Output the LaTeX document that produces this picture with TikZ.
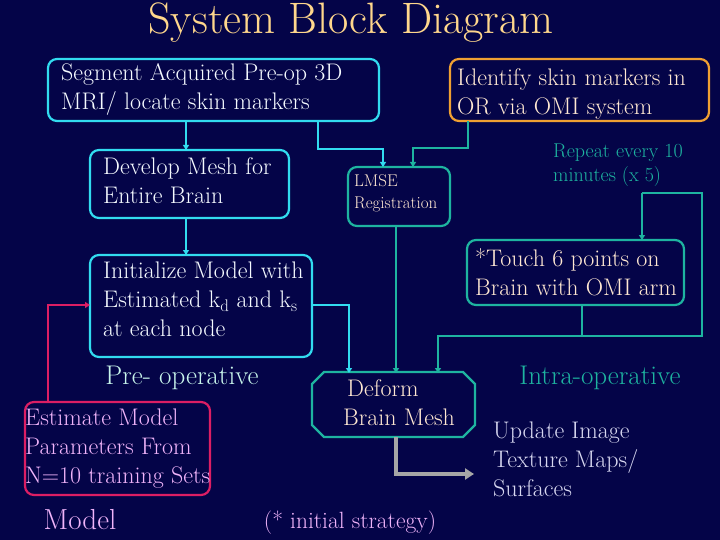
\documentclass[tikz,border=0pt]{standalone}
\usetikzlibrary{arrows.meta,shapes.geometric}
\definecolor{bg}{RGB}{4,4,72}
\definecolor{cy}{RGB}{50,220,240}
\definecolor{tl}{RGB}{30,180,160}
\definecolor{orng}{RGB}{240,160,50}
\definecolor{mag}{RGB}{220,30,100}
\definecolor{txt}{RGB}{245,250,255}
\definecolor{peach}{RGB}{255,232,210}
\definecolor{pink}{RGB}{240,180,250}
\definecolor{lav}{RGB}{215,215,240}
\definecolor{ttl}{RGB}{255,215,140}
\definecolor{pre}{RGB}{200,245,235}
\begin{document}
\begin{tikzpicture}[x=1pt,y=-1pt,
  box/.style={draw, line width=2.2pt, rounded corners=9pt, inner sep=0pt},
  lab/.style={anchor=north west, align=left, font=\fontsize{24}{29}\selectfont, inner sep=0pt},
  con/.style={line width=2.2pt},
  arr/.style={con,-{Triangle[length=5pt,width=6pt]}}]
\fill[bg] (0,0) rectangle (720,540);
\useasboundingbox (0,0) rectangle (720,540);
\node[text=ttl, font=\fontsize{44}{46}\selectfont] (title) at (351,23) {System Block Diagram};
% boxes
\draw[box,cy] (48,59) rectangle (379,121);
\node[lab,text=txt] (seg) at (61,63) {Segment Acquired Pre-op 3D\\MRI/ locate skin markers};
\draw[box,orng] (450,59) rectangle (709,121);
\node[lab,text=peach] (ide) at (457,68) {Identify skin markers in\\OR via OMI system};
\draw[box,cy] (90,150) rectangle (289,218);
\node[lab,text=txt] (dev) at (103,157) {Develop Mesh for\\Entire Brain};
\draw[box,tl] (348,167) rectangle (450,226);
\node[lab,text=peach,font=\fontsize{17}{22}\selectfont] (lmse) at (354,174) {LMSE\\Registration};
\draw[box,tl] (467,240) rectangle (684,305);
\node[lab,text=peach] (tch) at (475,248) {*Touch 6 points on\\Brain with OMI arm};
\draw[box,cy] (90,255) rectangle (312,357);
\node[lab,text=txt] (ini) at (103,262) {Initialize Model with\\Estimated k\textsubscript{d} and k\textsubscript{s}\\at each node};
\draw[box,mag] (25,402) rectangle (210,495);
\node[lab,text=pink] (est) at (25,409) {Estimate Model\\Parameters From\\N=10 training Sets};
\draw[tl,line width=2.2pt] (324,372) -- (463,372) -- (475,384) -- (475,425) -- (463,437) -- (324,437) -- (312,425) -- (312,384) -- cycle;
\node[lab,text=peach] (def) at (343,379) {\,Deform\\Brain Mesh};
% texts
\node[lab,text=tl,font=\fontsize{20}{24}\selectfont] (rep) at (553,144) {Repeat every 10\\minutes (x 5)};
\node[text=pre, font=\fontsize{27}{29}\selectfont] (pre) at (182,378) {Pre- operative};
\node[text=tl, font=\fontsize{27}{29}\selectfont] (intra) at (600,378) {Intra-operative};
\node[lab,text=lav] (upd) at (493,422) {Update Image\\Texture Maps/\\Surfaces};
\node[text=pink, font=\fontsize{29}{31}\selectfont] (mod) at (80,520) {Model};
\node[text=pink, font=\fontsize{23.5}{25}\selectfont] (str) at (350,523) {(* initial strategy)};
% connectors
\coordinate (c1) at (186,121); \coordinate (c2) at (186,150);
\draw[arr,cy] (c1) -- (c2);
\coordinate (c3) at (186,218); \coordinate (c4) at (186,255);
\draw[arr,cy] (c3) -- (c4);
\coordinate (c5) at (318,121); \coordinate (c6) at (383,167);
\draw[arr,cy] (c5) |- (350,149) -| (c6);
\coordinate (c7) at (468,121); \coordinate (c8) at (413,167);
\draw[arr,tl] (c7) |- (440,148) -| (c8);
\coordinate (c9) at (642,193); \coordinate (c10) at (642,240);
\draw[arr,tl] (c10|-c9) -- (c10);
\coordinate (c11) at (438,373);
\draw[arr,tl] (c9) -- (702,193) -- (702,336) -- (438,336) -- (c11);
\coordinate (c12) at (582,305);
\draw[con,tl] (c12) -- (582,336);
\coordinate (c13) at (396,226); \coordinate (c14) at (396,373);
\draw[arr,tl] (c13) -- (c14);
\coordinate (c15) at (312,305); \coordinate (c16) at (349,373);
\draw[arr,cy] (c15) -| (c16);
\coordinate (c17) at (48,402); \coordinate (c18) at (90,305);
\draw[arr,mag] (c17) |- (c18);
\coordinate (c19) at (396,437); \coordinate (c20) at (474,474);
\draw[line width=4pt,gray!70,-{Triangle[length=9pt,width=11pt]}] (c19) |- (c20);
\end{tikzpicture}
\end{document}
